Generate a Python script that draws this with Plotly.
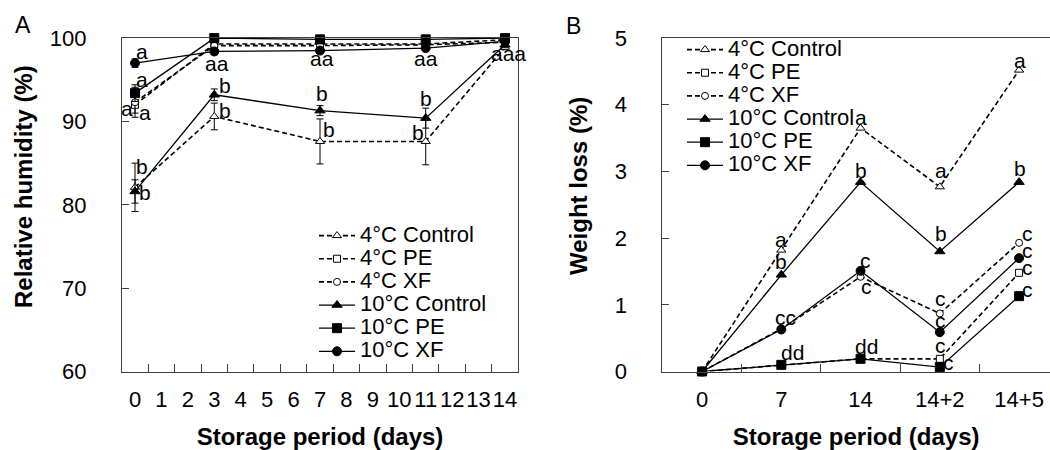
import plotly.graph_objects as go

# ---------------- data ----------------
series_names = ["4°C Control", "4°C PE", "4°C XF", "10°C Control", "10°C PE", "10°C XF"]

# Panel A: relative humidity (%)
rh_days = [0, 3, 7, 11, 14]
rh_tick_labels = ["0", "1", "2", "3", "4", "5", "6", "7", "8", "9", "10", "11", "12", "13", "14"]
rh_4_control = [82.1, 90.6, 87.6, 87.6, 98.9]
rh_4_pe = [92.0, 99.3, 99.3, 99.3, 99.8]
rh_4_xf = [92.3, 99.1, 99.1, 99.2, 99.5]
rh_10_control = [81.6, 93.2, 91.3, 90.4, 99.2]
rh_10_pe = [93.4, 100.0, 99.85, 99.85, 100.0]
rh_10_xf = [97.0, 98.4, 98.5, 98.8, 99.6]

rh_err_4_control = [2.9, 1.6, 2.7, 2.8, 0.3]
rh_err_4_pe = [1.0, 0.3, 0.3, 0.3, 0.2]
rh_err_4_xf = [1.8, 0.4, 0.3, 0.3, 0.2]
rh_err_10_control = [1.4, 0.7, 0.6, 1.2, 0.3]
rh_err_10_pe = [1.0, 0.2, 0.4, 0.4, 0.2]
rh_err_10_xf = [0.5, 0.4, 0.3, 0.3, 0.2]

# Panel B: weight loss (%)
wl_days = ["0", "7", "14", "14+2", "14+5"]
wl_4_control = [0, 1.82, 3.65, 2.77, 4.52]
wl_4_pe = [0, 0.10, 0.19, 0.19, 1.48]
wl_4_xf = [0, 0.64, 1.42, 0.87, 1.93]
wl_10_control = [0, 1.45, 2.84, 1.80, 2.84]
wl_10_pe = [0, 0.10, 0.19, 0.065, 1.13]
wl_10_xf = [0, 0.63, 1.51, 0.59, 1.70]

# significance letters (text, x in data units, y in data units)
rh_letters = [
    ("a", 0.28, 98.4), ("a", 0.28, 95.0), ("a", -0.30, 91.5), ("a", 0.36, 91.1),
    ("b", 0.26, 84.6), ("b", 0.37, 81.5),
    ("a", 3.28, 101.4), ("aa", 3.09, 97.0), ("b", 3.39, 94.3), ("b", 3.39, 91.3),
    ("aa", 7.09, 101.6), ("aa", 7.09, 97.5), ("b", 7.06, 93.4), ("b", 7.35, 89.0),
    ("aa", 11.0, 101.6), ("aa", 11.0, 97.5), ("b", 11.01, 92.7), ("b", 10.72, 88.7),
    ("aaa", 14.12, 101.4), ("aaa", 14.12, 98.2),
]
wl_letters = [
    ("a", 0.99, 1.98), ("b", 0.99, 1.65), ("cc", 1.05, 0.81), ("dd", 1.14, 0.285),
    ("a", 2.0, 3.81), ("b", 2.01, 3.02), ("c", 2.06, 1.67), ("c", 2.08, 1.28), ("dd", 2.08, 0.375),
    ("a", 3.01, 3.02), ("b", 3.01, 2.07), ("c", 3.01, 1.10), ("c", 3.01, 0.77),
    ("c", 3.01, 0.39), ("c", 3.11, 0.135),
    ("a", 4.01, 4.67), ("b", 4.01, 3.05), ("c", 4.11, 2.07), ("c", 4.11, 1.82),
    ("c", 4.11, 1.56), ("c", 4.11, 1.23),
]

# ---------------- style ----------------
FONT = "Liberation Sans, Arial, sans-serif"
AXC = "#3f3f3f"
W, H = 1050, 450

styles = {
    "4°C Control": dict(symbol="triangle-up", fill="white", dash="5px,3px", size=8),
    "4°C PE": dict(symbol="square", fill="white", dash="5px,3px", size=7),
    "4°C XF": dict(symbol="circle", fill="white", dash="5px,3px", size=7),
    "10°C Control": dict(symbol="triangle-up", fill="black", dash="solid", size=9),
    "10°C PE": dict(symbol="square", fill="black", dash="solid", size=9),
    "10°C XF": dict(symbol="circle", fill="black", dash="solid", size=9),
}

rh_series = [rh_4_control, rh_4_pe, rh_4_xf, rh_10_control, rh_10_pe, rh_10_xf]
rh_errs = [rh_err_4_control, rh_err_4_pe, rh_err_4_xf, rh_err_10_control, rh_err_10_pe, rh_err_10_xf]
wl_series = [wl_4_control, wl_4_pe, wl_4_xf, wl_10_control, wl_10_pe, wl_10_xf]

fig = go.Figure()

def legend_label(name):
    return f"<span style='font-size:22px'>{name}</span>"

for name, ys, es in zip(series_names, rh_series, rh_errs):
    st = styles[name]
    fig.add_trace(go.Scatter(
        x=rh_days, y=ys, name=legend_label(name), mode="lines+markers",
        xaxis="x", yaxis="y", legend="legend", cliponaxis=False,
        line=dict(color="black", width=1.3 if st["dash"] == "solid" else 1.6, dash=st["dash"]),
        marker=dict(symbol=st["symbol"], size=st["size"], color=st["fill"],
                    line=dict(color="black", width=1)),
        error_y=dict(type="data", array=es, visible=True, color="black", thickness=1, width=3.5),
    ))

for name, ys in zip(series_names, wl_series):
    st = styles[name]
    fig.add_trace(go.Scatter(
        x=wl_days, y=ys, name=legend_label(name), mode="lines+markers",
        xaxis="x2", yaxis="y2", legend="legend2", cliponaxis=False,
        line=dict(color="black", width=1.3 if st["dash"] == "solid" else 1.6, dash=st["dash"]),
        marker=dict(symbol=st["symbol"], size=st["size"], color=st["fill"],
                    line=dict(color="black", width=1)),
    ))

annotations = []
for t, x, y in rh_letters:
    annotations.append(dict(text=t, x=x, y=y, xref="x", yref="y", showarrow=False,
                            xanchor="center", yanchor="middle",
                            font=dict(family=FONT, size=21, color="black")))
for t, x, y in wl_letters:
    annotations.append(dict(text=t, x=x, y=y, xref="x2", yref="y2", showarrow=False,
                            xanchor="center", yanchor="middle",
                            font=dict(family=FONT, size=21, color="black")))

def paper(px, py):
    return px / W, 1 - py / H

for txt, (px, py), size in [("A", (23, 25.5), 23), ("B", (573, 25.8), 23)]:
    x, y = paper(px, py)
    annotations.append(dict(text=txt, x=x, y=y, xref="paper", yref="paper", showarrow=False,
                            xanchor="center", yanchor="middle",
                            font=dict(family=FONT, size=size, color="black")))

for txt, (px, py) in [("Relative humidity (%)", (23.3, 186.7)), ("Weight loss (%)", (578, 186))]:
    x, y = paper(px, py)
    annotations.append(dict(text=txt, x=x, y=y, xref="paper", yref="paper", showarrow=False,
                            textangle=-90, xanchor="center", yanchor="middle",
                            font=dict(family=FONT, size=24, color="black", weight="bold")))

ydom = [1 - 371.5 / H, 1 - 38.1 / H]
tickfont = dict(family=FONT, size=22, color="black")
titlefont = dict(family=FONT, size=24, color="black", weight="bold")

fig.update_layout(
    width=W, height=H,
    margin=dict(l=0, r=0, t=0, b=0, autoexpand=False),
    paper_bgcolor="white", plot_bgcolor="white",
    showlegend=True,
    xaxis=dict(
        domain=[121.8 / W, 518.2 / W], range=[-0.5, 14.5], anchor="y",
        tickmode="array", tickvals=list(range(len(rh_tick_labels))), ticktext=rh_tick_labels,
        ticks="", tickangle=0, tickfont=tickfont, ticklabelstandoff=8,
        showline=True, linecolor=AXC, linewidth=1, mirror=True,
        showgrid=False, zeroline=False, automargin=False,
        minor=dict(tickmode="array", tickvals=[i + 0.5 for i in range(len(rh_tick_labels) - 1)],
                   ticks="inside", ticklen=8, tickcolor=AXC, tickwidth=1, showgrid=False),
        title=dict(text="Storage period (days)", font=titlefont, standoff=18),
    ),
    yaxis=dict(
        domain=ydom, range=[60, 100], anchor="x",
        tickmode="array", tickvals=[60, 70, 80, 90, 100],
        ticks="inside", ticklen=7, tickcolor=AXC, tickfont=tickfont, ticklabelstandoff=30,
        showline=True, linecolor=AXC, linewidth=1, mirror=True,
        showgrid=False, zeroline=False, automargin=False,
    ),
    xaxis2=dict(
        domain=[662.4 / W, 1.0], type="category", categoryorder="array", categoryarray=wl_days,
        range=[-0.5, 4.39], anchor="y2",
        ticks="inside", tickson="boundaries", ticklen=8, tickcolor=AXC, tickangle=0,
        tickfont=tickfont, ticklabelstandoff=8,
        showline=True, linecolor=AXC, linewidth=1, mirror=True,
        showgrid=False, zeroline=False, automargin=False,
        title=dict(text="Storage period (days)", font=titlefont, standoff=18),
    ),
    yaxis2=dict(
        domain=ydom, range=[0, 5], anchor="x2",
        tickmode="array", tickvals=[0, 1, 2, 3, 4, 5],
        ticks="inside", ticklen=7, tickcolor=AXC, tickfont=tickfont, ticklabelstandoff=30,
        showline=True, linecolor=AXC, linewidth=1, mirror=False,
        showgrid=False, zeroline=False, automargin=False,
    ),
    legend=dict(x=314 / W, y=1 - 219 / H, xanchor="left", yanchor="top",
                font=dict(family=FONT, size=15.5, color="black"), itemwidth=36,
                bgcolor="rgba(0,0,0,0)", borderwidth=0, tracegroupgap=0),
    legend2=dict(x=682 / W, y=1 - 33 / H, xanchor="left", yanchor="top",
                 font=dict(family=FONT, size=15.5, color="black"), itemwidth=36,
                 bgcolor="rgba(0,0,0,0)", borderwidth=0, tracegroupgap=0),
    annotations=annotations,
)

fig.write_html("out.html")
